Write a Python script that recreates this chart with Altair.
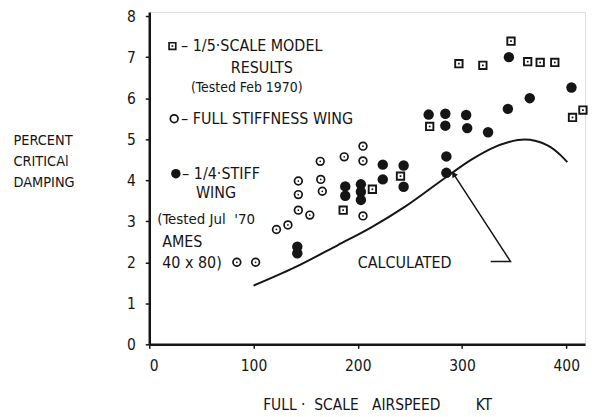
import altair as alt
import pandas as pd

# ---- data ----
full_x = [84, 102, 122, 133, 143, 154, 143, 143, 166, 164.5, 164, 187, 205, 205, 205]
full_y = [2.0, 2.0, 2.8, 2.91, 3.27, 3.15, 3.65, 3.98, 3.73, 4.02, 4.46, 4.57, 4.47, 4.83, 3.13]

sq_x = [186, 214, 241, 269, 297, 320, 347, 363, 375, 389, 406, 416]
sq_y = [3.27, 3.78, 4.1, 5.31, 6.84, 6.8, 7.39, 6.89, 6.87, 6.87, 5.53, 5.71]

stiff_x = [142, 142, 188, 188, 203, 203, 203, 224, 224, 244, 244, 285, 285,
           268, 284, 284, 304, 305, 325, 345, 344, 365, 405]
stiff_y = [2.38, 2.22, 3.85, 3.62, 3.9, 3.72, 3.52, 4.38, 4.02, 4.36, 3.84, 4.58, 4.18,
           5.6, 5.62, 5.33, 5.59, 5.27, 5.17, 7.0, 5.74, 6.0, 6.26]

calc_x = [100, 140, 181, 213, 245, 285, 309, 328, 345, 360, 382, 395, 401]
calc_y = [1.43, 1.88, 2.42, 2.85, 3.35, 4.08, 4.5, 4.77, 4.93, 4.99, 4.85, 4.6, 4.44]

# annotation: arrow from label to curve
arrow_x = [327.5, 346.5, 292]
arrow_y = [2.02, 2.02, 4.15]

# legend / labels (text, x, y, align)
lab_text = ["\u2013 1/5\u00b7SCALE MODEL", "RESULTS", "(Tested Feb 1970)",
            "\u2013 FULL STIFFNESS WING", "\u2013 1/4\u00b7STIFF", "WING",
            "(Tested Jul\u00a0\u00a0'70", "AMES", "40 x 80)", "CALCULATED"]
lab_x = [30.5, 108, 93.5, 30.5, 31.5, 64, 7.6, 12.4, 12.4, 245]
lab_y = [7.27, 6.74, 6.25, 5.5, 4.16, 3.69, 3.05, 2.5, 1.99, 1.99]
lab_align = ["left", "center", "center", "left", "left", "center",
             "left", "left", "left", "center"]

leg_kind = ["square", "open", "filled"]
leg_x = [22.2, 23.9, 25.5]
leg_y = [7.27, 5.5, 4.16]

FONT = "DejaVu Sans Condensed, Liberation Sans Narrow, sans-serif"
INK = "#151515"
FS = 16

xs = alt.Scale(domain=[0, 418], nice=False)
ys = alt.Scale(domain=[0, 8.1], nice=False)

full = pd.DataFrame({"x": full_x, "y": full_y})
sq = pd.DataFrame({"x": sq_x, "y": sq_y})
stiff = pd.DataFrame({"x": stiff_x, "y": stiff_y})
calc = pd.DataFrame({"x": calc_x, "y": calc_y})
arrow = pd.DataFrame({"x": arrow_x, "y": arrow_y, "o": [0, 1, 2]})
labs = pd.DataFrame({"t": lab_text, "x": lab_x, "y": lab_y, "a": lab_align})
labs["small"] = labs.t.str.startswith("(Tested")
leg = pd.DataFrame({"k": leg_kind, "x": leg_x, "y": leg_y})

NB = "\u00a0"
X = alt.X("x:Q", scale=xs, axis=alt.Axis(
    values=[0, 100, 200, 300, 400], format="d", grid=False, domainColor=INK,
    domainWidth=2.5, tickColor=INK, tickWidth=1.5, tickSize=4, labelPadding=10,
    labelFont=FONT, labelFontSize=15.5, labelColor=INK,
    title="FULL" + NB + "\u00b7" + NB * 2 + "SCALE" + NB * 3 + "AIRSPEED" + NB * 8 + "KT",
    titleFont=FONT, titleFontSize=15.5, titleFontWeight="normal", titleColor=INK,
    titleX=229, titleY=61, titleBaseline="middle", titleAnchor="start",
    titleAlign="center"))
Y = alt.Y("y:Q", scale=ys, axis=alt.Axis(
    values=list(range(0, 9)), grid=False, domainColor=INK, domainWidth=2.5,
    tickColor=INK, tickWidth=1.5, tickSize=4, labelPadding=10,
    labelFont=FONT, labelFontSize=15.5, labelColor=INK,
    title=["PERCENT", "CRITICAl", "DAMPING"], titleAngle=0, titleAlign="left",
    titleBaseline="middle", titleX=-137, titleY=129, titleLineHeight=21,
    titleFont=FONT, titleFontSize=14.5, titleFontWeight="normal", titleColor=INK,
    titleAnchor="start"))

base_x = alt.X("x:Q", scale=xs)
base_y = alt.Y("y:Q", scale=ys)

curve = alt.Chart(calc).mark_line(color=INK, strokeWidth=2, interpolate="monotone").encode(x=X, y=Y)
arrow_line = alt.Chart(arrow).mark_line(color=INK, strokeWidth=1.5).encode(
    x=base_x, y=base_y, order="o:O")
arrow_head = alt.Chart(arrow[arrow.o == 2]).mark_point(
    shape="triangle-up", filled=True, color=INK, size=45, angle=327, opacity=1).encode(
    x=base_x, y=base_y)

full_c = alt.Chart(full).mark_point(shape="circle", filled=False, color=INK,
                                    size=60, strokeWidth=1.7, opacity=1).encode(x=base_x, y=base_y)
full_d = alt.Chart(full).mark_point(shape="circle", filled=True, color=INK,
                                    size=3, opacity=1).encode(x=base_x, y=base_y)
sq_s = alt.Chart(sq).mark_point(shape="square", filled=False, color=INK,
                                size=55, strokeWidth=1.9, opacity=1).encode(x=base_x, y=base_y)
sq_d = alt.Chart(sq).mark_point(shape="square", filled=True, color=INK,
                                size=3, opacity=1).encode(x=base_x, y=base_y)
stiff_p = alt.Chart(stiff).mark_point(shape="circle", filled=True, color=INK,
                                      size=110, opacity=1).encode(x=base_x, y=base_y)

leg_sq = alt.Chart(leg[leg.k == "square"]).mark_point(shape="square", filled=False, color=INK,
                                                      size=45, strokeWidth=1.7, opacity=1).encode(x=base_x, y=base_y)
leg_sqd = alt.Chart(leg[leg.k == "square"]).mark_point(shape="square", filled=True, color=INK,
                                                       size=3, opacity=1).encode(x=base_x, y=base_y)
leg_op = alt.Chart(leg[leg.k == "open"]).mark_point(shape="circle", filled=False, color=INK,
                                                    size=60, strokeWidth=1.7, opacity=1).encode(x=base_x, y=base_y)
leg_fi = alt.Chart(leg[leg.k == "filled"]).mark_point(shape="circle", filled=True, color=INK,
                                                      size=90, opacity=1).encode(x=base_x, y=base_y)

def txt(align, small, size):
    d = labs[(labs.a == align) & (labs.small == small)]
    return alt.Chart(d).mark_text(
        align=align, baseline="middle", font=FONT, fontSize=size, color=INK).encode(
        x=base_x, y=base_y, text="t:N")

chart = alt.layer(curve, arrow_line, arrow_head, full_c, full_d, sq_s, sq_d, stiff_p,
                  leg_sq, leg_sqd, leg_op, leg_fi,
                  txt("left", False, FS), txt("center", False, FS),
                  txt("left", True, 15), txt("center", True, 14)).properties(
    width=438, height=334,
    autosize=alt.AutoSizeParams(type="none"),
    padding={"left": 142, "top": 3, "right": 4, "bottom": 70},
).configure_view(stroke=None).configure(background="white")

chart.save("out.html", embed_options={"renderer": "svg", "actions": False})
